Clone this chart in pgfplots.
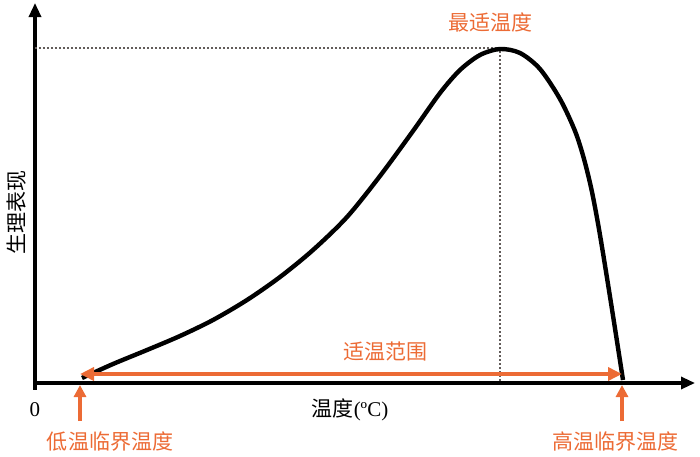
\documentclass[border=0pt]{standalone}
\usepackage{pgfplots}
\pgfplotsset{compat=1.18}
\usepackage{fontspec}
\setmainfont{Liberation Serif}
\newfontfamily\cjk{Noto Sans CJK SC}
\usetikzlibrary{arrows.meta}
\definecolor{orng}{HTML}{EC6B35}
\definecolor{dotgray}{HTML}{625C5A}

\begin{document}
\begin{tikzpicture}
\begin{axis}[
  scale only axis,
  width=330pt, height=190pt,
  xmin=0, xmax=660, ymin=0, ymax=380,
  axis lines=left,
  axis line style={line width=1.6pt, -{Triangle[length=7pt,width=6pt]}},
  xtick=\empty, ytick=\empty,
  clip=false,
]
% dotted guides to the optimum
\draw[dotgray, line width=1.2pt, dash pattern=on 1pt off 1pt] (axis cs:0,335) -- (axis cs:465,335) -- (axis cs:465,0);
\draw[line width=1.6pt] (axis cs:0,0) -- (axis cs:0,-7);

% response curve
\addplot[black, line width=2.2pt, smooth, tension=0.5] coordinates {
  (47,5) (78,19) (112,33) (145,47) (178,63) (212,83) (245,106)
  (278,133) (312,166) (345,207) (378,252) (405,290) (425,313)
  (445,328) (465,334) (485,330) (505,314) (525,284) (540,252)
  (549,224) (557,191) (565,148) (576,80) (588,3)
};

% optimal range arrow
\draw[orng, line width=2.2pt, {Triangle[length=7pt,width=6.5pt]}-{Triangle[length=7pt,width=6.5pt]}] (axis cs:45,9) -- (axis cs:587,9);
\draw[orng, line width=2.2pt, -{Triangle[length=6pt,width=6pt]}] (axis cs:45,-38) -- (axis cs:45,-2);
\draw[orng, line width=2.2pt, -{Triangle[length=6pt,width=6pt]}] (axis cs:587,-38) -- (axis cs:587,-2);

\node[orng, font=\cjk\fontsize{10.5}{12}\selectfont] at (axis cs:455,361) {最适温度};
\node[orng, font=\cjk\fontsize{10.5}{12}\selectfont] at (axis cs:350,31) {适温范围};
\node[orng, font=\cjk\fontsize{10.5}{12}\selectfont] at (axis cs:75,-59) {低温临界温度};
\node[orng, font=\cjk\fontsize{10.5}{12}\selectfont] at (axis cs:580,-59) {高温临界温度};
\node[font=\fontsize{10.5}{12}\selectfont] at (axis cs:315,-27) {{\cjk 温度}(ºC)};
\node[font=\fontsize{10.5}{12}\selectfont] at (axis cs:0,-27) {0};
\node[rotate=90, font=\cjk\fontsize{10.5}{12}\selectfont] at (axis cs:-18,171) {生理表现};

\coordinate (bl) at (axis cs:-35,-73);
\coordinate (tr) at (axis cs:665,383);
\end{axis}
\pgfresetboundingbox
\path (bl) rectangle (tr);
\end{tikzpicture}
\end{document}
